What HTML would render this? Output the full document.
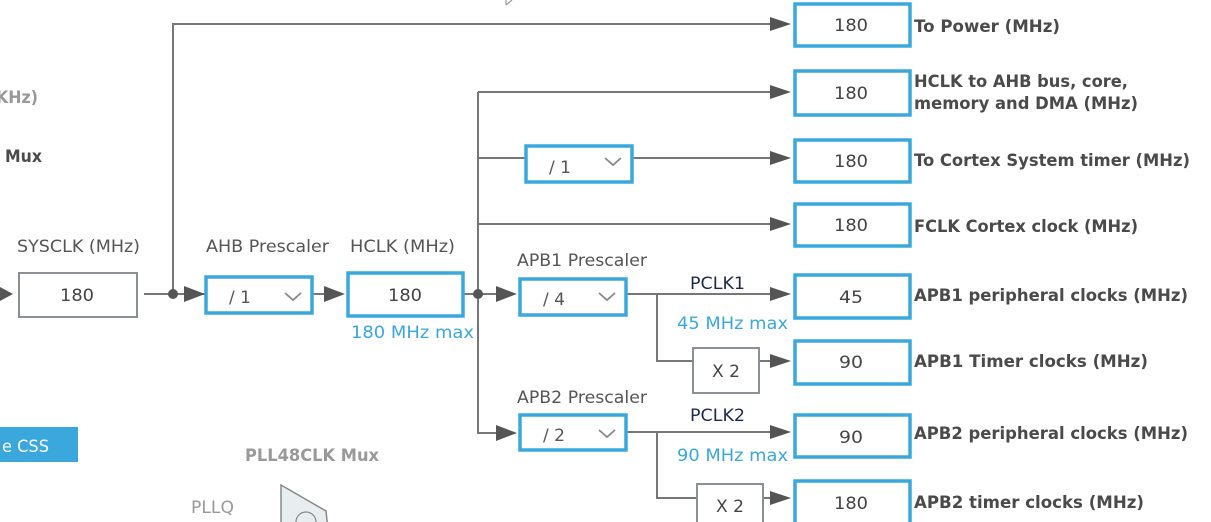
<!DOCTYPE html>
<html><head><meta charset="utf-8"><style>
html,body{margin:0;padding:0;background:#fff;}
svg{display:block;}
text{font-family:"DejaVu Sans","Liberation Sans",sans-serif;}
</style></head><body>
<svg width="1211" height="522" viewBox="0 0 1211 522" xmlns="http://www.w3.org/2000/svg">
<g stroke="#777" stroke-width="2" fill="none">
<path d="M144 294 H205"/>
<path d="M173 294 V24 H772"/>
<path d="M312 294 H330"/>
<path d="M463 294 H500"/>
<path d="M478 92 V433 H500"/>
<path d="M478 92 H772"/>
<path d="M478 158 H525 M632 158 H772"/>
<path d="M478 224 H772"/>
<path d="M626 294 H772"/>
<path d="M657 294 V361 H693 M759 361 H772"/>
<path d="M626 432 H772"/>
<path d="M657 432 V498 H697 M763 498 H772"/>
</g>
<g fill="#555">
<circle cx="173" cy="294" r="5"/>
<circle cx="478" cy="294" r="5"/>
<polygon points="0,287 13,294 0,301"/>
<polygon points="184,286 205,294 184,302"/>
<polygon points="324,286 345,294 324,302"/>
<polygon points="496,286 517,294 496,302"/>
<polygon points="496,425 517,433 496,441"/>
<polygon points="770,17 791,24 770,31"/>
<polygon points="770,85 791,92 770,99"/>
<polygon points="770,151 791,158 770,165"/>
<polygon points="770,217 791,224 770,231"/>
<polygon points="770,287 791,294 770,301"/>
<polygon points="770,354 791,361 770,368"/>
<polygon points="770,425 791,432 770,439"/>
<polygon points="770,491 791,498 770,505"/>
</g>
<g fill="#fff" stroke="#8a9096" stroke-width="2">
<rect x="19" y="273" width="118" height="44"/>
<rect x="693" y="348" width="66" height="45"/>
<rect x="697" y="484" width="66" height="45"/>
</g>
<g fill="#fff" stroke="#3aa8dc" stroke-width="3.5">
<rect x="206" y="277" width="106" height="36"/>
<rect x="348" y="273" width="115" height="43"/>
<rect x="526" y="146" width="106" height="36"/>
<rect x="520" y="279" width="106" height="36"/>
<rect x="520" y="415" width="106" height="35"/>
<rect x="795" y="4" width="115" height="42"/>
<rect x="795" y="71" width="115" height="44"/>
<rect x="795" y="140" width="115" height="42"/>
<rect x="795" y="204" width="115" height="42"/>
<rect x="795" y="275" width="115" height="43"/>
<rect x="795" y="341" width="115" height="43"/>
<rect x="795" y="415" width="115" height="42"/>
<rect x="795" y="481" width="115" height="45"/>
</g>
<g stroke="#888" stroke-width="1.8" fill="none">
<path d="M285 293 L293 300 L301 293"/>
<path d="M605 158 L613 165 L621 158"/>
<path d="M599 293 L607 300 L615 293"/>
<path d="M599 430 L607 437 L615 430"/>
</g>
<g fill="#444" font-size="17" text-anchor="middle">
<text x="77" y="301" textLength="34" lengthAdjust="spacingAndGlyphs">180</text>
<text x="405" y="301" textLength="34" lengthAdjust="spacingAndGlyphs">180</text>
<text x="726" y="377" textLength="28" lengthAdjust="spacingAndGlyphs">X 2</text>
<text x="730" y="512" textLength="28" lengthAdjust="spacingAndGlyphs">X 2</text>
<text x="851" y="31" textLength="34" lengthAdjust="spacingAndGlyphs">180</text>
<text x="851" y="99" textLength="34" lengthAdjust="spacingAndGlyphs">180</text>
<text x="851" y="167" textLength="34" lengthAdjust="spacingAndGlyphs">180</text>
<text x="851" y="231" textLength="34" lengthAdjust="spacingAndGlyphs">180</text>
<text x="851" y="303" textLength="24" lengthAdjust="spacingAndGlyphs">45</text>
<text x="851" y="368" textLength="24" lengthAdjust="spacingAndGlyphs">90</text>
<text x="851" y="443" textLength="24" lengthAdjust="spacingAndGlyphs">90</text>
<text x="851" y="509" textLength="34" lengthAdjust="spacingAndGlyphs">180</text>
</g>
<g fill="#555" font-size="17">
<text x="229" y="303">/ 1</text>
<text x="549" y="173">/ 1</text>
<text x="543" y="305">/ 4</text>
<text x="543" y="441">/ 2</text>
</g>
<g fill="#555" font-size="16.5">
<text x="17" y="252" textLength="123" lengthAdjust="spacingAndGlyphs">SYSCLK (MHz)</text>
<text x="206" y="252" textLength="123" lengthAdjust="spacingAndGlyphs">AHB Prescaler</text>
<text x="350" y="252" textLength="105" lengthAdjust="spacingAndGlyphs">HCLK (MHz)</text>
<text x="517" y="266" textLength="130" lengthAdjust="spacingAndGlyphs">APB1 Prescaler</text>
<text x="517" y="403" textLength="130" lengthAdjust="spacingAndGlyphs">APB2 Prescaler</text>
</g>
<g font-size="16.5">
<text fill="#1b2a4a" x="690" y="289" textLength="55" lengthAdjust="spacingAndGlyphs">PCLK1</text>
<text fill="#1b2a4a" x="690" y="421" textLength="55" lengthAdjust="spacingAndGlyphs">PCLK2</text>
<text fill="#3aa8dc" x="677" y="329" textLength="111" lengthAdjust="spacingAndGlyphs">45 MHz max</text>
<text fill="#3aa8dc" x="677" y="461" textLength="111" lengthAdjust="spacingAndGlyphs">90 MHz max</text>
<text fill="#3aa8dc" x="351" y="338" textLength="123" lengthAdjust="spacingAndGlyphs">180 MHz max</text>
</g>
<g font-weight="bold" fill="#4a4a4a" font-size="16.5">
<text x="914" y="32" textLength="146" lengthAdjust="spacingAndGlyphs">To Power (MHz)</text>
<text x="914" y="87" textLength="214" lengthAdjust="spacingAndGlyphs">HCLK to AHB bus, core,</text>
<text x="914" y="109" textLength="224" lengthAdjust="spacingAndGlyphs">memory and DMA (MHz)</text>
<text x="914" y="166" textLength="276" lengthAdjust="spacingAndGlyphs">To Cortex System timer (MHz)</text>
<text x="914" y="232" textLength="224" lengthAdjust="spacingAndGlyphs">FCLK Cortex clock (MHz)</text>
<text x="914" y="301" textLength="274" lengthAdjust="spacingAndGlyphs">APB1 peripheral clocks (MHz)</text>
<text x="914" y="367" textLength="234" lengthAdjust="spacingAndGlyphs">APB1 Timer clocks (MHz)</text>
<text x="914" y="439" textLength="274" lengthAdjust="spacingAndGlyphs">APB2 peripheral clocks (MHz)</text>
<text x="914" y="508" textLength="230" lengthAdjust="spacingAndGlyphs">APB2 timer clocks (MHz)</text>
</g>
<text x="-4" y="103" fill="#999" font-size="17" font-weight="bold" textLength="42" lengthAdjust="spacingAndGlyphs">KHz)</text>
<text x="5" y="162" fill="#4a4a4a" font-size="17" font-weight="bold" textLength="37" lengthAdjust="spacingAndGlyphs">Mux</text>
<rect x="0" y="427" width="78" height="35" fill="#3aa8dc"/>
<text x="2" y="452" fill="#fff" font-size="17" textLength="47" lengthAdjust="spacingAndGlyphs">e CSS</text>
<text x="245" y="461" fill="#999" font-size="16.5" font-weight="bold" textLength="134" lengthAdjust="spacingAndGlyphs">PLL48CLK Mux</text>
<text x="191" y="513" fill="#999" font-size="16.5" textLength="43" lengthAdjust="spacingAndGlyphs">PLLQ</text>
<path d="M281 485 L326 511 L328 530 L281 530 Z" fill="#e8edf0" stroke="#888" stroke-width="1.5"/>
<path d="M296 522 A10 10 0 0 1 316 522" fill="none" stroke="#888" stroke-width="1.2"/>
<path d="M506 5 L512 0 M506 5 L506 0" stroke="#999" stroke-width="1.2" fill="none"/>
</svg>
</body></html>
